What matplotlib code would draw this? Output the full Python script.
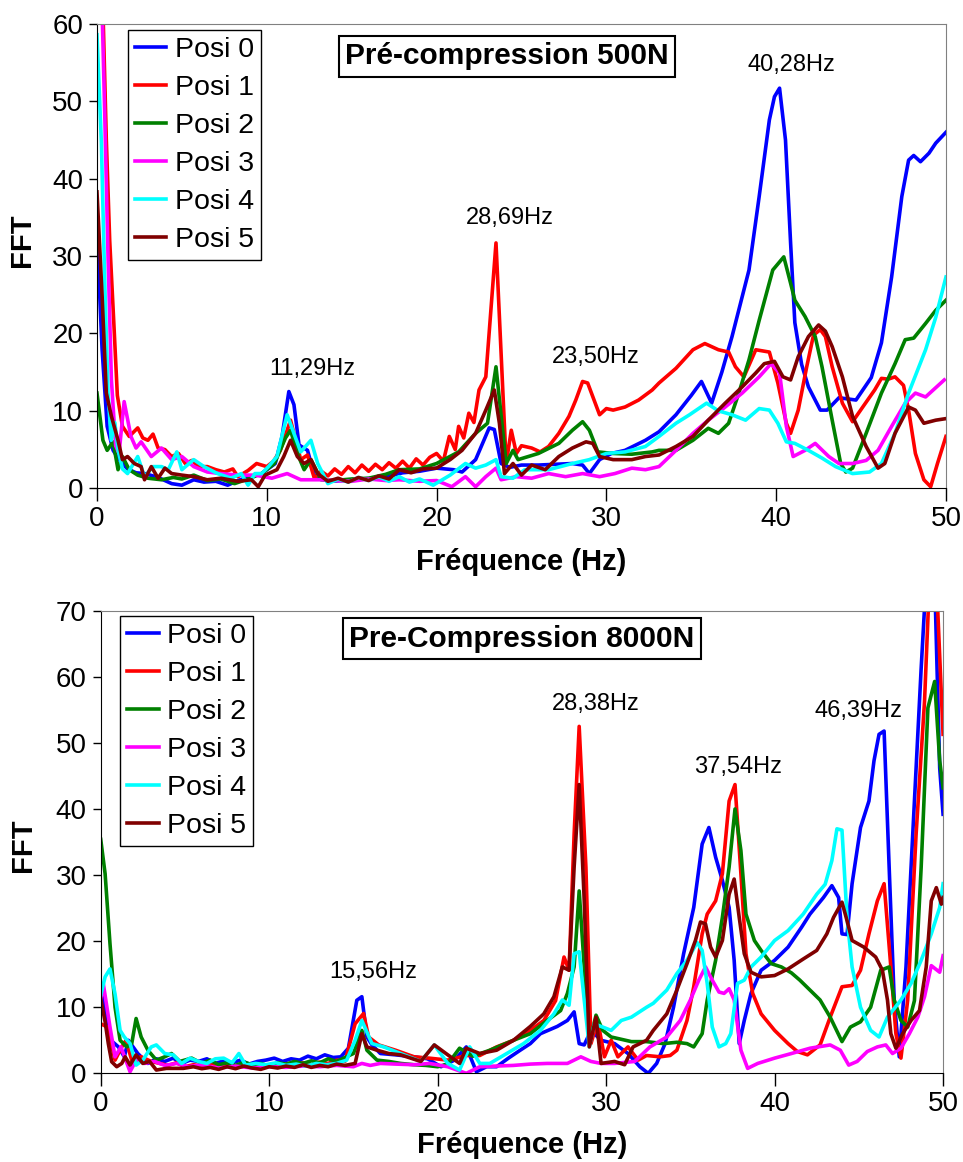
import matplotlib
matplotlib.use('Agg')
import matplotlib.pyplot as plt

plt.rcParams['font.family'] = ['Liberation Sans', 'DejaVu Sans']

labels = ['Posi 0', 'Posi 1', 'Posi 2', 'Posi 3', 'Posi 4', 'Posi 5']
colours = ['#0000FF', '#FF0000', '#008000', '#FF00FF', '#00FFFF', '#800000']

# --- Pré-compression 500N : (frequence Hz, FFT)
top_posi0 = [(0, 33), (0.3, 18), (0.6, 8), (0.95, 4.9), (1.3, 3.7), (1.8, 2.5), (2.3, 2.0), (2.8, 1.9), (3.3, 1.6),
             (3.8, 1.2), (4.4, 0.6), (5.0, 0.4), (5.7, 1.1), (6.3, 0.8), (7.0, 0.9), (7.7, 0.4), (8.3, 1.0), (9.0, 1.5),
             (9.7, 1.9), (10.5, 3.2), (10.9, 6.7), (11.3, 12.5), (11.6, 10.8), (11.9, 5.6), (12.4, 4.9), (12.8, 1.7),
             (13.6, 0.9), (14.5, 1.0), (15.5, 1.2), (16.5, 1.3), (17.3, 1.6), (18.0, 2.0), (19.0, 2.2), (20.0, 2.6),
             (21.0, 2.4), (21.5, 2.1), (22.3, 3.7), (23.1, 7.8), (23.4, 7.6), (23.8, 3.2), (24.3, 2.7), (25.0, 3.0),
             (26.0, 3.0), (27.0, 3.1), (28.0, 3.2), (28.6, 3.0), (29.0, 1.9), (29.6, 3.7), (30.3, 4.5), (31.1, 4.9),
             (32.3, 6.2), (33.1, 7.3), (34.1, 9.5), (35.0, 12.0), (35.6, 13.8), (36.2, 11.0), (36.8, 15.0), (37.4, 19.6),
             (38.4, 28.2), (39.0, 37.7), (39.6, 47.6), (39.9, 50.6), (40.2, 51.7), (40.55, 45.0), (40.85, 31.7),
             (41.1, 21.4), (41.5, 16.0), (41.9, 13.1), (42.6, 10.1), (43.0, 10.1), (43.7, 11.7), (44.7, 11.4),
             (45.6, 14.3), (46.2, 18.8), (46.8, 27.3), (47.4, 37.7), (47.8, 42.4), (48.1, 43.0), (48.5, 42.2),
             (49.0, 43.3), (49.4, 44.6), (50.0, 46.0)]
top_posi1 = [(0, 62), (0.35, 62), (0.55, 45), (0.75, 32), (1.0, 21), (1.2, 12), (1.5, 8.0), (1.9, 6.7), (2.4, 7.8),
             (2.7, 6.5), (3.0, 6.2), (3.3, 7.0), (3.6, 5.2), (4.0, 5.0), (4.4, 4.1), (4.8, 4.5), (5.2, 3.2), (5.6, 3.6),
             (6.0, 2.8), (6.5, 2.8), (7.0, 2.4), (7.5, 2.1), (8.0, 2.5), (8.3, 1.5), (8.9, 2.3), (9.4, 3.2), (10.0, 2.8),
             (10.4, 3.5), (10.8, 4.9), (11.4, 8.8), (12.0, 3.7), (12.4, 4.3), (12.8, 1.3), (13.2, 2.2), (13.6, 1.6),
             (14.0, 2.5), (14.4, 1.8), (14.8, 2.8), (15.2, 2.0), (15.6, 3.0), (16.0, 2.2), (16.4, 3.1), (16.8, 2.4),
             (17.2, 3.3), (17.6, 2.6), (18.0, 3.5), (18.4, 2.6), (18.8, 3.8), (19.2, 3.0), (19.6, 4.0), (20.0, 4.5),
             (20.4, 3.5), (20.75, 6.7), (21.1, 5.0), (21.3, 8.0), (21.6, 6.5), (21.9, 9.7), (22.2, 8.5), (22.5, 12.7),
             (22.9, 14.4), (23.5, 31.7), (24.1, 3.2), (24.4, 7.5), (24.7, 4.5), (25.0, 5.5), (25.6, 5.2), (26.1, 4.7),
             (26.6, 5.4), (27.2, 7.1), (27.8, 9.3), (28.2, 11.4), (28.6, 13.8), (28.9, 13.6), (29.6, 9.5), (30.0, 10.3),
             (30.4, 10.1), (31.1, 10.5), (31.9, 11.4), (32.7, 12.7), (33.1, 13.6), (34.1, 15.5), (35.1, 17.9),
             (35.8, 18.7), (36.6, 17.9), (37.2, 17.6), (37.6, 15.7), (38.1, 14.4), (38.8, 17.9), (39.6, 17.6),
             (40.1, 13.6), (40.6, 8.4), (40.85, 7.1), (41.3, 10.1), (41.8, 15.7), (42.2, 19.8), (42.6, 20.5),
             (42.9, 19.6), (43.3, 15.7), (43.9, 11.0), (44.5, 8.6), (45.1, 10.5), (45.8, 12.7), (46.2, 14.2),
             (46.6, 14.1), (47.0, 14.4), (47.5, 13.3), (47.8, 10.1), (48.2, 4.5), (48.7, 1.1), (49.1, 0.2), (49.5, 3.2),
             (50.0, 6.7)]
top_posi2 = [(0, 12.3), (0.35, 6.2), (0.6, 4.9), (0.95, 6.0), (1.24, 2.4), (1.5, 4.1), (1.9, 2.4), (2.4, 1.7),
             (3.0, 1.3), (3.8, 1.1), (4.5, 1.4), (5.0, 1.2), (5.7, 1.7), (6.5, 1.0), (7.3, 1.2), (8.1, 0.6), (8.9, 1.2),
             (9.7, 1.9), (10.45, 3.2), (11.1, 6.5), (11.4, 7.5), (11.8, 4.5), (12.2, 2.4), (12.6, 3.7), (13.2, 1.1),
             (14.0, 1.0), (15.0, 1.2), (16.0, 1.3), (17.0, 1.8), (17.8, 2.4), (19.0, 2.5), (20.0, 3.2), (21.3, 4.7),
             (22.3, 7.1), (23.0, 8.4), (23.5, 15.7), (24.1, 3.2), (24.5, 4.9), (24.8, 3.7), (26.0, 4.5), (27.2, 5.8),
             (28.0, 7.5), (28.6, 8.6), (29.0, 7.5), (29.5, 4.7), (30.4, 4.5), (31.5, 4.4), (32.7, 4.7), (33.1, 4.9),
             (34.1, 4.9), (35.1, 6.2), (36.0, 7.75), (36.6, 7.1), (37.2, 8.4), (37.8, 12.3), (38.4, 16.6), (39.0, 21.7),
             (39.8, 28.2), (40.45, 29.9), (40.85, 26.5), (41.1, 24.3), (41.7, 22.2), (42.3, 19.6), (42.7, 15.7),
             (43.3, 8.8), (43.8, 3.2), (44.1, 2.1), (44.5, 2.6), (45.3, 7.1), (46.2, 12.3), (47.0, 16.1), (47.6, 19.2),
             (48.1, 19.4), (48.8, 21.3), (49.4, 23.0), (50.0, 24.3)]
top_posi3 = [(0, 62), (0.3, 62), (0.45, 49), (0.65, 30), (0.85, 14), (1.1, 5.5), (1.3, 4.5), (1.6, 11.2), (2.0, 6.7),
             (2.3, 5.2), (2.6, 6.0), (3.2, 4.1), (3.8, 5.2), (4.4, 3.7), (5.0, 4.1), (5.7, 2.8), (6.5, 2.1), (7.3, 1.9),
             (8.3, 1.7), (9.3, 1.7), (10.3, 1.3), (11.2, 1.9), (12.0, 1.1), (13.2, 1.1), (14.0, 1.0), (15.0, 0.9),
             (16.0, 1.2), (17.0, 1.0), (17.8, 1.1), (19.0, 0.9), (20.0, 1.0), (20.9, 0.2), (21.7, 1.5), (22.3, 0.2),
             (22.9, 1.5), (23.5, 2.6), (23.8, 1.1), (24.7, 1.5), (25.6, 1.3), (26.6, 1.9), (27.6, 1.5), (28.6, 1.9),
             (29.6, 1.5), (30.5, 1.9), (31.5, 2.6), (32.3, 2.4), (33.1, 2.8), (34.1, 4.9), (35.1, 7.1), (36.0, 8.8),
             (37.0, 10.5), (38.0, 12.3), (39.0, 14.4), (39.7, 16.1), (40.2, 14.9), (40.6, 8.0), (41.0, 4.1), (41.7, 4.9),
             (42.3, 5.8), (43.1, 4.1), (43.7, 3.2), (44.5, 3.2), (45.3, 3.6), (46.0, 4.9), (46.8, 8.0), (47.6, 11.0),
             (48.2, 12.3), (48.8, 11.8), (49.9, 14.0)]
top_posi4 = [(0, 58.6), (0.26, 44.6), (0.45, 27.3), (0.65, 12.3), (0.84, 6.2), (1.05, 8.5), (1.24, 5.0), (1.5, 2.5),
             (1.8, 1.9), (2.4, 4.1), (2.8, 1.5), (3.3, 2.8), (3.8, 2.8), (4.2, 2.4), (4.7, 4.7), (5.0, 2.4), (5.7, 3.7),
             (6.3, 2.8), (7.1, 1.9), (7.9, 1.3), (8.5, 1.9), (8.9, 0.4), (9.3, 1.9), (9.7, 1.9), (10.1, 2.8), (10.6, 4.1),
             (11.2, 9.5), (11.6, 7.1), (12.0, 4.7), (12.6, 6.2), (13.0, 3.2), (13.6, 0.6), (14.2, 1.2), (14.8, 0.8),
             (15.4, 1.4), (16.0, 1.0), (16.6, 1.5), (17.2, 0.9), (17.8, 1.5), (18.4, 0.8), (19.0, 1.2), (19.8, 0.4),
             (20.8, 1.7), (21.7, 3.2), (22.3, 2.6), (22.9, 3.0), (23.5, 3.7), (23.8, 1.5), (24.5, 1.3), (25.2, 2.4),
             (26.6, 2.4), (28.0, 3.2), (29.0, 3.7), (30.0, 4.5), (31.1, 4.7), (32.3, 5.4), (33.1, 6.7), (34.1, 8.4),
             (34.9, 9.5), (35.9, 11.0), (36.6, 10.0), (37.4, 9.5), (38.2, 8.8), (39.0, 10.3), (39.6, 10.1), (40.1, 8.4),
             (40.6, 6.0), (41.1, 5.8), (41.9, 4.9), (42.7, 3.9), (43.5, 2.8), (44.5, 1.9), (45.5, 2.1), (46.2, 3.2),
             (47.0, 7.1), (47.8, 12.3), (48.8, 17.9), (49.4, 22.1), (50.0, 27.3)]
top_posi5 = [(0, 38.3), (0.3, 25), (0.55, 12.3), (0.85, 9.3), (1.24, 6.2), (1.5, 3.7), (1.8, 4.1), (2.2, 3.2),
             (2.6, 2.8), (2.8, 1.1), (3.2, 2.8), (3.6, 1.3), (4.0, 2.6), (4.4, 1.9), (5.0, 1.7), (5.7, 1.5), (6.5, 1.1),
             (7.3, 1.3), (8.3, 0.9), (9.1, 1.1), (9.5, 0.2), (9.9, 1.7), (10.6, 2.4), (11.0, 4.1), (11.4, 6.2),
             (11.8, 4.1), (12.2, 3.2), (12.6, 3.7), (13.0, 1.9), (13.6, 0.9), (14.2, 1.3), (14.8, 0.8), (15.4, 1.4),
             (16.0, 1.0), (16.6, 1.6), (17.2, 1.2), (17.8, 2.4), (18.5, 2.0), (19.2, 2.5), (20.0, 2.6), (20.8, 3.7),
             (21.5, 4.9), (22.3, 7.1), (22.9, 10.1), (23.4, 12.7), (23.7, 8.4), (24.0, 1.9), (24.5, 3.2), (25.0, 1.7),
             (25.6, 3.0), (26.4, 2.4), (27.2, 4.1), (28.0, 5.2), (28.8, 6.0), (29.2, 5.8), (29.6, 4.1), (30.4, 3.7),
             (31.5, 3.7), (32.3, 4.1), (33.1, 4.3), (34.1, 5.4), (35.1, 6.7), (36.0, 8.8), (37.0, 11.0), (38.0, 13.1),
             (38.8, 14.9), (39.3, 16.1), (39.9, 16.4), (40.4, 14.4), (40.85, 14.0), (41.3, 17.0), (41.9, 19.6),
             (42.5, 21.1), (42.9, 20.3), (43.3, 18.3), (43.9, 14.4), (44.5, 9.3), (45.3, 5.4), (46.0, 2.6), (46.4, 3.2),
             (47.0, 7.1), (47.8, 10.5), (48.2, 10.1), (48.7, 8.4), (49.4, 8.8), (50.0, 9.0)]

# --- Pre-Compression 8000N
bot_posi0 = [(0, 13.1), (0.3, 9.0), (0.6, 5.0), (1.05, 4.0), (1.4, 2.5), (1.64, 5.0), (2.2, 3.0), (2.8, 1.5),
             (3.3, 2.2), (3.8, 1.8), (4.3, 2.3), (4.8, 1.5), (5.3, 2.0), (5.8, 1.8), (6.3, 2.2), (6.8, 1.5), (7.3, 1.9),
             (7.8, 1.6), (8.3, 2.0), (8.8, 1.4), (9.3, 1.8), (9.8, 2.0), (10.3, 2.3), (10.8, 1.8), (11.3, 2.2),
             (11.8, 2.0), (12.3, 2.6), (12.8, 2.2), (13.3, 2.8), (13.8, 2.4), (14.25, 2.5), (14.7, 3.8), (15.2, 11.05),
             (15.5, 11.6), (15.8, 5.5), (16.1, 4.3), (16.6, 3.0), (17.5, 2.8), (18.6, 2.5), (19.4, 2.2), (20.2, 1.0),
             (21.0, 2.0), (21.7, 4.0), (22.3, 0.24), (22.9, 1.0), (23.5, 1.0), (24.2, 2.3), (24.9, 3.5), (25.5, 4.5),
             (26.1, 6.0), (27.1, 7.1), (27.7, 8.0), (28.1, 9.3), (28.4, 4.5), (28.7, 4.3), (29.1, 6.5), (29.7, 5.0),
             (30.5, 4.5), (31.3, 3.0), (32.0, 1.0), (32.5, 0.0), (33.0, 1.5), (33.5, 4.5), (34.0, 10.0), (34.6, 18.1),
             (35.2, 25.1), (35.7, 34.7), (36.1, 37.2), (36.5, 32.7), (36.9, 29.2), (37.3, 25.1), (37.6, 17.1),
             (37.9, 4.5), (38.2, 8.0), (38.6, 12.1), (39.2, 15.6), (40.0, 17.1), (40.8, 19.1), (41.6, 22.1),
             (42.1, 24.1), (42.9, 26.6), (43.4, 28.4), (43.8, 26.6), (44.0, 21.1), (44.3, 21.0), (44.6, 28.7),
             (45.1, 37.2), (45.6, 41.2), (45.9, 47.3), (46.2, 51.3), (46.5, 51.8), (46.8, 31.2), (47.1, 11.1),
             (47.4, 2.5), (47.8, 16.1), (48.3, 41.2), (48.7, 61.3), (49.0, 75), (49.5, 75), (49.8, 46.2), (50.0, 39.2)]
bot_posi1 = [(0, 7.5), (0.4, 7.0), (0.85, 2.0), (1.25, 4.0), (1.5, 5.0), (1.84, 2.0), (2.4, 2.5), (3.0, 1.8),
             (3.5, 1.5), (4.0, 1.2), (4.5, 1.6), (5.0, 1.0), (5.5, 1.3), (6.0, 1.1), (6.5, 1.4), (7.0, 0.9), (7.5, 1.2),
             (8.0, 1.0), (8.5, 1.5), (9.0, 1.1), (9.5, 0.8), (10.0, 1.3), (10.5, 1.0), (11.0, 1.4), (11.5, 1.2),
             (12.0, 1.6), (12.5, 1.3), (13.0, 1.7), (13.5, 1.5), (14.0, 2.0), (14.5, 1.8), (15.1, 7.5), (15.6, 9.05),
             (15.9, 5.5), (16.5, 4.3), (17.5, 3.5), (18.6, 2.5), (19.5, 2.3), (20.6, 2.0), (21.7, 2.7), (22.5, 2.7),
             (23.5, 4.0), (24.5, 5.0), (25.5, 6.5), (26.3, 8.0), (27.0, 11.0), (27.5, 17.6), (27.8, 15.6), (28.1, 36.2),
             (28.4, 52.5), (28.8, 31.2), (29.1, 4.5), (29.5, 8.0), (29.9, 2.5), (30.3, 5.0), (30.7, 2.5), (31.3, 4.0),
             (31.9, 2.0), (32.4, 2.7), (33.2, 2.5), (33.8, 2.7), (34.2, 3.5), (34.8, 8.0), (35.2, 13.1), (35.7, 21.1),
             (36.0, 24.1), (36.5, 26.1), (36.9, 30.2), (37.3, 41.2), (37.65, 43.7), (38.0, 30.2), (38.3, 18.1),
             (38.7, 12.1), (39.2, 9.0), (40.0, 6.5), (40.8, 4.5), (41.35, 3.3), (41.95, 2.8), (42.7, 4.3), (43.3, 8.5),
             (44.0, 13.1), (44.6, 13.3), (45.1, 15.6), (45.6, 21.1), (46.1, 26.1), (46.5, 28.7), (46.9, 16.1),
             (47.2, 6.0), (47.5, 2.3), (47.9, 11.1), (48.4, 36.2), (48.9, 56.3), (49.2, 75), (49.6, 75), (50.0, 51.3)]
bot_posi2 = [(0, 35.4), (0.26, 30.2), (0.55, 19.6), (0.85, 10.0), (1.15, 5.0), (1.55, 4.0), (1.84, 4.5), (2.1, 8.3),
             (2.4, 5.5), (2.8, 3.5), (3.3, 2.0), (3.8, 2.5), (4.2, 3.0), (4.7, 1.8), (5.4, 2.3), (6.0, 1.5), (6.5, 2.0),
             (7.0, 1.3), (7.5, 1.6), (8.0, 1.2), (8.5, 1.7), (9.0, 1.3), (9.5, 1.5), (10.0, 1.1), (10.5, 1.6),
             (11.0, 1.4), (11.5, 1.8), (12.0, 1.5), (12.5, 1.9), (13.0, 1.6), (13.5, 2.2), (14.0, 1.8), (14.5, 2.4),
             (15.0, 3.0), (15.5, 6.5), (15.8, 3.5), (16.4, 2.0), (17.1, 1.8), (17.8, 1.5), (18.6, 1.3), (19.3, 1.2),
             (20.0, 1.0), (20.6, 1.4), (21.3, 3.8), (22.1, 2.6), (23.1, 3.5), (24.5, 5.0), (25.5, 6.0), (26.5, 8.0),
             (27.3, 9.5), (27.7, 12.1), (28.1, 16.1), (28.4, 27.6), (28.7, 16.1), (29.0, 4.5), (29.4, 8.8), (29.8, 6.5),
             (30.3, 5.5), (31.5, 4.8), (32.4, 4.8), (33.4, 4.5), (34.2, 4.7), (34.8, 4.5), (35.2, 4.0), (35.7, 6.0),
             (36.0, 11.1), (36.5, 17.1), (36.9, 23.6), (37.3, 31.2), (37.65, 40.0), (38.0, 33.7), (38.3, 24.1),
             (38.8, 20.1), (39.2, 18.6), (39.8, 16.6), (40.4, 16.1), (41.0, 15.2), (41.5, 14.1), (42.1, 12.6),
             (42.7, 11.1), (43.3, 8.5), (44.0, 4.8), (44.5, 7.0), (45.1, 7.8), (45.7, 10.0), (46.3, 15.6), (46.8, 16.1),
             (47.1, 11.1), (47.5, 8.0), (47.9, 7.0), (48.3, 11.0), (48.7, 31.2), (49.1, 55.3), (49.5, 59.3),
             (49.8, 47.3), (50.0, 43.2)]
bot_posi3 = [(0, 11.0), (0.15, 13.6), (0.55, 7.0), (0.85, 2.5), (1.2, 4.0), (1.74, 0.24), (2.1, 2.0), (2.6, 1.5),
             (3.2, 1.8), (3.8, 1.2), (4.5, 1.5), (5.2, 1.0), (6.0, 1.3), (7.0, 0.8), (8.0, 1.1), (9.0, 0.8), (10.0, 1.0),
             (11.0, 0.9), (12.0, 1.1), (13.0, 1.0), (14.0, 1.2), (15.0, 1.0), (15.5, 1.5), (16.0, 1.2), (16.6, 1.5),
             (17.5, 1.4), (18.6, 1.3), (19.5, 1.5), (20.6, 1.0), (21.7, 0.0), (22.5, 1.0), (23.5, 1.1), (24.5, 1.2),
             (25.5, 1.4), (26.5, 1.5), (27.7, 1.5), (28.5, 2.5), (29.1, 1.8), (29.7, 1.5), (30.5, 1.5), (31.7, 1.8),
             (32.6, 4.0), (33.6, 5.5), (34.4, 8.0), (35.0, 11.1), (35.5, 14.1), (35.9, 16.1), (36.3, 14.1),
             (36.7, 12.3), (37.0, 12.1), (37.3, 12.8), (37.6, 11.1), (38.0, 3.5), (38.4, 0.75), (39.0, 1.5),
             (40.0, 2.3), (41.0, 3.0), (42.1, 3.8), (43.3, 4.3), (43.9, 3.5), (44.4, 1.25), (44.9, 1.8), (45.5, 3.3),
             (46.1, 4.0), (46.6, 4.3), (47.0, 3.0), (47.5, 3.8), (48.0, 6.0), (48.5, 8.5), (48.9, 11.6), (49.3, 16.3),
             (49.8, 15.3), (50.0, 17.8)]
bot_posi4 = [(0, 11.8), (0.26, 14.6), (0.55, 15.8), (0.85, 12.0), (1.15, 6.5), (1.4, 5.5), (1.74, 4.5), (2.1, 1.25),
             (2.5, 2.0), (3.0, 4.0), (3.3, 4.3), (3.8, 3.0), (4.3, 2.8), (4.8, 1.5), (5.3, 2.3), (5.8, 1.8), (6.3, 1.5),
             (6.8, 2.2), (7.3, 2.3), (7.8, 1.6), (8.2, 3.0), (8.6, 1.25), (9.2, 1.5), (9.8, 1.3), (10.4, 1.6),
             (11.0, 1.2), (11.6, 1.4), (12.2, 1.1), (12.8, 1.5), (13.4, 1.3), (14.0, 1.5), (14.6, 2.0), (15.1, 5.0),
             (15.5, 8.0), (16.1, 4.5), (16.8, 4.0), (17.8, 3.0), (19.0, 1.8), (19.8, 4.3), (20.6, 1.5), (21.3, 0.5),
             (21.9, 4.0), (22.5, 1.5), (23.1, 1.5), (24.1, 3.0), (25.1, 4.5), (26.1, 6.5), (26.9, 9.0), (27.4, 11.1),
             (27.8, 10.3), (28.1, 18.1), (28.4, 18.4), (28.7, 11.1), (29.0, 4.0), (29.3, 7.5), (29.7, 7.1), (30.3, 6.5),
             (30.9, 8.0), (31.5, 8.5), (32.4, 10.0), (32.8, 10.6), (33.6, 12.6), (34.2, 15.1), (34.8, 17.1),
             (35.4, 19.8), (35.7, 18.6), (36.0, 13.6), (36.3, 7.0), (36.7, 4.0), (37.1, 4.5), (37.4, 6.0), (37.8, 13.6),
             (38.2, 14.1), (38.6, 16.1), (39.2, 17.6), (40.0, 20.1), (40.8, 21.6), (41.7, 24.1), (42.5, 27.1),
             (43.0, 28.6), (43.4, 32.2), (43.7, 37.0), (44.0, 36.8), (44.3, 23.6), (44.6, 16.1), (45.1, 10.0),
             (45.7, 6.5), (46.2, 5.5), (46.7, 8.5), (47.5, 11.1), (48.1, 13.6), (48.7, 17.1), (49.3, 21.1),
             (49.8, 25.1), (50.0, 28.7)]
bot_posi5 = [(0, 11.3), (0.26, 7.8), (0.45, 4.5), (0.65, 1.75), (0.95, 1.0), (1.25, 1.5), (1.45, 2.5), (1.74, 1.25),
             (2.1, 2.8), (2.5, 1.5), (2.9, 1.8), (3.3, 0.5), (3.9, 0.75), (4.9, 0.75), (5.5, 1.0), (6.0, 0.7),
             (6.5, 0.9), (7.0, 0.6), (7.5, 1.0), (8.0, 0.7), (8.5, 1.1), (9.0, 0.8), (9.5, 0.6), (10.0, 1.0),
             (10.5, 0.8), (11.0, 1.1), (11.5, 0.9), (12.0, 1.3), (12.5, 0.9), (13.0, 1.2), (13.5, 1.0), (14.0, 1.4),
             (14.5, 1.2), (15.1, 1.5), (15.5, 6.0), (15.8, 4.0), (16.4, 3.5), (17.1, 3.0), (17.8, 2.8), (19.0, 1.8),
             (19.8, 4.3), (20.6, 2.8), (21.3, 1.5), (21.7, 3.8), (22.5, 3.0), (23.5, 3.5), (24.5, 5.0), (25.5, 7.1),
             (26.3, 9.0), (26.9, 11.6), (27.4, 16.1), (27.8, 15.6), (28.1, 31.2), (28.4, 43.7), (28.7, 26.1),
             (29.0, 4.0), (29.4, 8.5), (29.7, 1.5), (30.5, 1.8), (31.1, 1.3), (31.6, 4.0), (32.4, 5.0), (32.8, 6.5),
             (33.6, 9.0), (34.2, 12.6), (34.8, 16.6), (35.3, 20.1), (35.6, 22.9), (35.9, 22.6), (36.2, 19.1),
             (36.5, 17.6), (36.9, 20.1), (37.3, 27.1), (37.6, 29.4), (37.9, 23.6), (38.2, 18.1), (38.6, 15.3),
             (39.2, 14.6), (40.0, 14.8), (40.8, 15.8), (41.7, 17.3), (42.5, 18.6), (43.1, 21.1), (43.5, 23.6),
             (44.0, 25.9), (44.3, 23.1), (44.6, 20.1), (45.3, 19.1), (46.0, 17.6), (46.4, 15.6), (46.7, 11.1),
             (46.9, 6.0), (47.2, 3.8), (47.6, 6.0), (48.1, 8.0), (48.6, 9.5), (49.0, 16.1), (49.3, 26.1), (49.6, 28.1),
             (49.9, 25.6), (50.0, 26.6)]

top_peaks = [('11,29Hz', 12.7, 15.4), ('28,69Hz', 24.3, 34.9), ('23,50Hz', 29.4, 17.0), ('40,28Hz', 40.9, 54.7)]
bot_peaks = [('15,56Hz', 16.2, 15.4), ('28,38Hz', 29.4, 55.9), ('37,54Hz', 37.8, 46.4), ('46,39Hz', 45.0, 54.8)]


def draw_panel(ax, series, ymax, title, title_xy, peaks, legend_xy, xlabel_y, ylabel_xy):
    for pts, lab, col in zip(series, labels, colours):
        f = [p[0] for p in pts]
        v = [p[1] for p in pts]
        ax.plot(f, v, color=col, lw=2.6, label=lab, solid_joinstyle='round')
    ax.set_xlim(0, 50)
    ax.set_ylim(0, ymax)
    ax.set_xticks(range(0, 51, 10))
    ax.set_yticks(range(0, ymax + 1, 10))
    ax.tick_params(axis='x', direction='out', length=9, width=1, labelsize=20, pad=4)
    ax.tick_params(axis='y', direction='out', length=6, width=1, labelsize=20, pad=4)
    for s in ['top', 'right']:
        ax.spines[s].set_color('#808080')
    for s in ['left', 'bottom']:
        ax.spines[s].set_color('black')
    ax.set_xlabel('Fréquence (Hz)', fontsize=21, fontweight='bold')
    ax.xaxis.set_label_coords(0.5, xlabel_y)
    ax.set_ylabel('FFT', fontsize=21, fontweight='bold')
    ax.yaxis.set_label_coords(*ylabel_xy)
    ax.text(title_xy[0], title_xy[1], title, transform=ax.transAxes, ha='center', va='center',
            fontsize=21.5, fontweight='bold',
            bbox=dict(boxstyle='square,pad=0.22', facecolor='white', edgecolor='black', lw=1.5))
    for txt, x, y in peaks:
        ax.text(x, y, txt, ha='center', va='center', fontsize=17)
    leg = ax.legend(loc='upper left', bbox_to_anchor=legend_xy, borderaxespad=0, fontsize=20.5,
                    fancybox=False, framealpha=1, edgecolor='black', handlelength=1.1,
                    handletextpad=0.3, labelspacing=0.42, borderpad=0.25)
    leg.get_frame().set_linewidth(1)


fig = plt.figure(figsize=(9.63, 11.62), dpi=100)
ax_top = fig.add_axes([0.1007, 0.5798, 0.8816, 0.3996])
ax_bot = fig.add_axes([0.1046, 0.0763, 0.8747, 0.3981])

draw_panel(ax_top, [top_posi0, top_posi1, top_posi2, top_posi3, top_posi4, top_posi5], 60,
           'Pré-compression 500N', (0.483, 0.93), top_peaks, (0.0365, 0.987), -0.129, (-0.072, 0.535))
draw_panel(ax_bot, [bot_posi0, bot_posi1, bot_posi2, bot_posi3, bot_posi4, bot_posi5], 70,
           'Pre-Compression 8000N', (0.50, 0.94), bot_peaks, (0.023, 0.9885), -0.124, (-0.076, 0.493))

fig.savefig('out.png', dpi=100)
